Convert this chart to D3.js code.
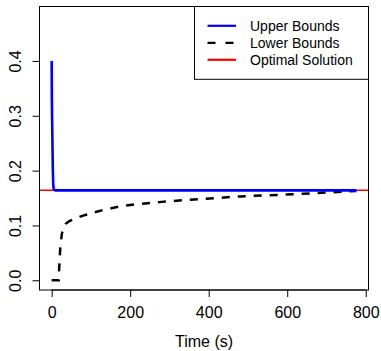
<!DOCTYPE html>
<html>
<head>
<meta charset="utf-8">
<script src="https://cdn.jsdelivr.net/npm/d3@7"></script>
<style>
  body { margin: 0; background: #fff; }
  text { font-family: "Liberation Sans", Arial, Helvetica, sans-serif; }
</style>
</head>
<body>
<div class="plot"></div>
<script>
// data
const upperTime  = [0, 0.5, 1, 2, 3, 4, 5, 7, 10, 776];
const upperValue = [0.4, 0.33, 0.3, 0.25, 0.2, 0.175, 0.167, 0.1645, 0.164, 0.164];
const lowerTime  = [0, 18, 19, 22, 26, 30, 36, 45, 60, 80, 100, 130, 175, 220, 280, 350, 420, 480, 550, 620, 700, 776];
const lowerValue = [0, 0, 0.02, 0.06, 0.085, 0.095, 0.103, 0.108, 0.113, 0.118, 0.122, 0.128, 0.135, 0.139, 0.143, 0.147, 0.150, 0.153, 0.155, 0.157, 0.160, 0.163];
const optimal = 0.164;
const xTicks = [0, 200, 400, 600, 800];
const yTicks = [0, 0.1, 0.2, 0.3, 0.4];
const legendLabels = ["Upper Bounds", "Lower Bounds", "Optimal Solution"];
const legendColors = ["blue", "black", "red"];

const W = 381, H = 351;
const margin = {top: 6.5, right: 12.5, bottom: 61, left: 39.5};
const w = W - margin.left - margin.right;
const h = H - margin.top - margin.bottom;

const svg = d3.select(".plot")
  .append("svg")
    .attr("width", W)
    .attr("height", H)
  .append("g")
    .attr("transform", "translate(" + margin.left + "," + margin.top + ")");

const x = d3.scaleLinear().domain([-31, 807]).range([0, w]);
const y = d3.scaleLinear().domain([-0.0177, 0.4993]).range([h, 0]);

// clip to plot region
svg.append("clipPath").attr("id", "clip")
  .append("rect").attr("width", w).attr("height", h);
const plot = svg.append("g").attr("clip-path", "url(#clip)");

// optimal solution (abline)
plot.append("line")
  .attr("x1", 0).attr("x2", w)
  .attr("y1", y(optimal)).attr("y2", y(optimal))
  .attr("stroke", "red")
  .attr("stroke-width", 1.5);

const line = d3.line().x(d => x(d[0])).y(d => y(d[1]));

// lower bounds, dashed
plot.append("path")
  .datum(lowerTime.map((t, i) => [t, lowerValue[i]]))
  .attr("d", line)
  .attr("fill", "none")
  .attr("stroke", "black")
  .attr("stroke-width", 2.5)
  .attr("stroke-dasharray", "8,8");

// upper bounds
plot.append("path")
  .datum(upperTime.map((t, i) => [t, upperValue[i]]))
  .attr("d", line)
  .attr("fill", "none")
  .attr("stroke", "blue")
  .attr("stroke-width", 2.6)
  .attr("stroke-linejoin", "round");

// box
svg.append("rect")
  .attr("width", w).attr("height", h)
  .attr("fill", "none")
  .attr("stroke", "black");

// x axis
const xAxis = svg.append("g")
  .attr("transform", "translate(0," + h + ")")
  .call(d3.axisBottom(x).tickValues(xTicks).tickSize(7).tickPadding(10).tickFormat(d3.format("d")));
xAxis.select(".domain").attr("d", "M" + x(0) + ",0H" + x(800));
xAxis.selectAll("text").style("font-size", "16px").style("font-family", "'Liberation Sans', Arial, sans-serif").attr("fill", "black");

// y axis
const yAxis = svg.append("g")
  .call(d3.axisLeft(y).tickValues(yTicks).tickSize(7).tickFormat(d3.format(".1f")));
yAxis.select(".domain").attr("d", "M0," + y(0) + "V" + y(0.4));
yAxis.selectAll("text")
  .attr("x", null).attr("dy", null)
  .attr("transform", "translate(-18.5,0) rotate(-90)")
  .style("text-anchor", "middle")
  .style("font-size", "16px")
  .style("font-family", "'Liberation Sans', Arial, sans-serif")
  .attr("fill", "black");

// x title
svg.append("text")
  .attr("x", w / 2)
  .attr("y", h + 57)
  .attr("text-anchor", "middle")
  .style("font-size", "16px")
  .text("Time (s)");

// legend
const legend = svg.append("g")
  .attr("transform", "translate(" + (194.5 - margin.left) + ",0)");
legend.append("rect")
  .attr("width", w - (194.5 - margin.left))
  .attr("height", 72.8)
  .attr("fill", "white")
  .attr("stroke", "black");
legendLabels.forEach((lab, i) => {
  const base = 24.3 + i * 17;
  legend.append("line")
    .attr("x1", 13).attr("x2", 41.5)
    .attr("y1", base - 5).attr("y2", base - 5)
    .attr("stroke", legendColors[i])
    .attr("stroke-width", 2.2)
    .attr("stroke-dasharray", i === 1 ? "8,10" : null);
  legend.append("text")
    .attr("x", 55.5)
    .attr("y", base)
    .style("font-size", "14px")
    .text(lab);
});
</script>
</body>
</html>
